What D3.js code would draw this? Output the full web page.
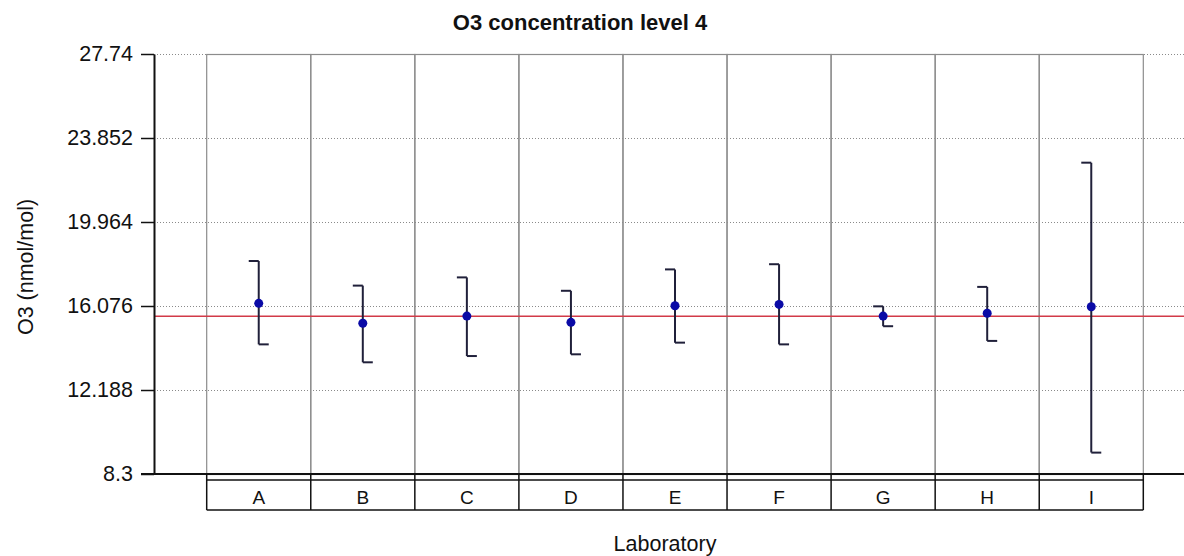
<!DOCTYPE html>
<html>
<head>
<meta charset="utf-8">
<script src="https://cdn.jsdelivr.net/npm/d3@7"></script>
<style>
  html, body { margin: 0; padding: 0; background: #fff; }
  svg { display: block; }
  text { font-family: "Liberation Sans", Arial, sans-serif; fill: #111; }
</style>
</head>
<body>
<svg id="chart" width="1184" height="556"></svg>
<script>
// ---- data ----
const categories = ["A", "B", "C", "D", "E", "F", "G", "H", "I"];
const means = [16.20, 15.28, 15.61, 15.32, 16.09, 16.15, 15.61, 15.74, 16.04];
const upper = [18.16, 17.02, 17.40, 16.78, 17.77, 18.01, 16.06, 16.96, 22.71];
const lower = [14.30, 13.47, 13.76, 13.84, 14.38, 14.30, 15.14, 14.46, 9.29];
const referenceValue = 15.60;
const yTicks = [8.3, 12.188, 16.076, 19.964, 23.852, 27.74];
const titleText = "O3 concentration level 4";
const xTitle = "Laboratory";
const yTitle = "O3 (nmol/mol)";

// ---- layout ----
const axisX = 154, plotRight = 1184;
const plotTop = 54, plotBottom = 474;
const bandLeft = 206.7, bandRight = 1143.3;

const svg = d3.select("#chart");

const x = d3.scaleBand().domain(categories).range([bandLeft, bandRight]).padding(0);
const y = d3.scaleLinear().domain([yTicks[0], yTicks[yTicks.length - 1]]).range([plotBottom, plotTop]);

// dotted horizontal grid
svg.append("g").selectAll("line").data(yTicks).join("line")
  .attr("x1", axisX).attr("x2", plotRight)
  .attr("y1", d => Math.round(y(d)) + 0.5).attr("y2", d => Math.round(y(d)) + 0.5)
  .attr("stroke", "#8a8a8a").attr("stroke-width", 1).attr("stroke-dasharray", "1,2");

// category cells (gray)
svg.append("g").selectAll("rect").data(categories).join("rect")
  .attr("x", d => x(d)).attr("y", plotTop + 0.5)
  .attr("width", x.bandwidth()).attr("height", plotBottom - plotTop)
  .attr("fill", "none").attr("stroke", "#8c8c8c").attr("stroke-width", 1.2);

// reference line
svg.append("line")
  .attr("x1", axisX).attr("x2", plotRight)
  .attr("y1", y(referenceValue)).attr("y2", y(referenceValue))
  .attr("stroke", "#d23a48").attr("stroke-width", 1.5);

// y axis
const yAxis = d3.axisLeft(y).tickValues(yTicks).tickFormat(d => String(d))
  .tickSize(13).tickSizeOuter(0).tickPadding(8);
const gy = svg.append("g").attr("transform", `translate(${axisX},0)`).call(yAxis);
gy.select(".domain").attr("stroke", "#111").attr("stroke-width", 2);
gy.selectAll(".tick line").attr("stroke", "#111").attr("stroke-width", 1.5);
gy.selectAll(".tick text").attr("font-size", 21.5).attr("fill", "#111")
  .attr("font-family", "'Liberation Sans', Arial, sans-serif");

// bottom baseline
svg.append("line").attr("x1", 141).attr("x2", plotRight)
  .attr("y1", plotBottom).attr("y2", plotBottom).attr("stroke", "#111").attr("stroke-width", 2);

// category label boxes
const boxTop = 480, boxBottom = 510;
svg.append("line").attr("x1", bandLeft).attr("x2", bandRight)
  .attr("y1", boxTop).attr("y2", boxTop).attr("stroke", "#111").attr("stroke-width", 1.5);
svg.append("line").attr("x1", bandLeft).attr("x2", bandRight)
  .attr("y1", boxBottom).attr("y2", boxBottom).attr("stroke", "#111").attr("stroke-width", 1.5);
const dividers = categories.map(c => x(c)).concat([bandRight]);
svg.append("g").selectAll("line").data(dividers).join("line")
  .attr("x1", d => d).attr("x2", d => d)
  .attr("y1", plotBottom).attr("y2", boxBottom)
  .attr("stroke", "#111").attr("stroke-width", 1.5);
svg.append("g").selectAll("text").data(categories).join("text")
  .attr("x", d => x(d) + x.bandwidth() / 2).attr("y", 504)
  .attr("text-anchor", "middle").attr("font-size", 19)
  .text(d => d);

// error bars
const cap = 10;
const bars = svg.append("g");
categories.forEach((c, i) => {
  const cx = x(c) + x.bandwidth() / 2;
  bars.append("line").attr("x1", cx).attr("x2", cx)
    .attr("y1", y(upper[i])).attr("y2", y(lower[i]))
    .attr("stroke", "#20203a").attr("stroke-width", 2);
  bars.append("line").attr("x1", cx - cap).attr("x2", cx)
    .attr("y1", y(upper[i])).attr("y2", y(upper[i]))
    .attr("stroke", "#20203a").attr("stroke-width", 2);
  bars.append("line").attr("x1", cx).attr("x2", cx + cap)
    .attr("y1", y(lower[i])).attr("y2", y(lower[i]))
    .attr("stroke", "#20203a").attr("stroke-width", 2);
});
svg.append("g").selectAll("circle").data(categories).join("circle")
  .attr("cx", d => x(d) + x.bandwidth() / 2)
  .attr("cy", (d, i) => y(means[i]))
  .attr("r", 4.5).attr("fill", "#0a0aa6");

// titles
svg.append("text").attr("x", 580).attr("y", 30).attr("text-anchor", "middle")
  .attr("font-size", 22).attr("font-weight", "bold").text(titleText);
svg.append("text").attr("x", 665).attr("y", 551).attr("text-anchor", "middle")
  .attr("font-size", 21.5).text(xTitle);
svg.append("text").attr("transform", "translate(33,267) rotate(-90)")
  .attr("text-anchor", "middle").attr("font-size", 21.5).text(yTitle);
</script>
</body>
</html>
